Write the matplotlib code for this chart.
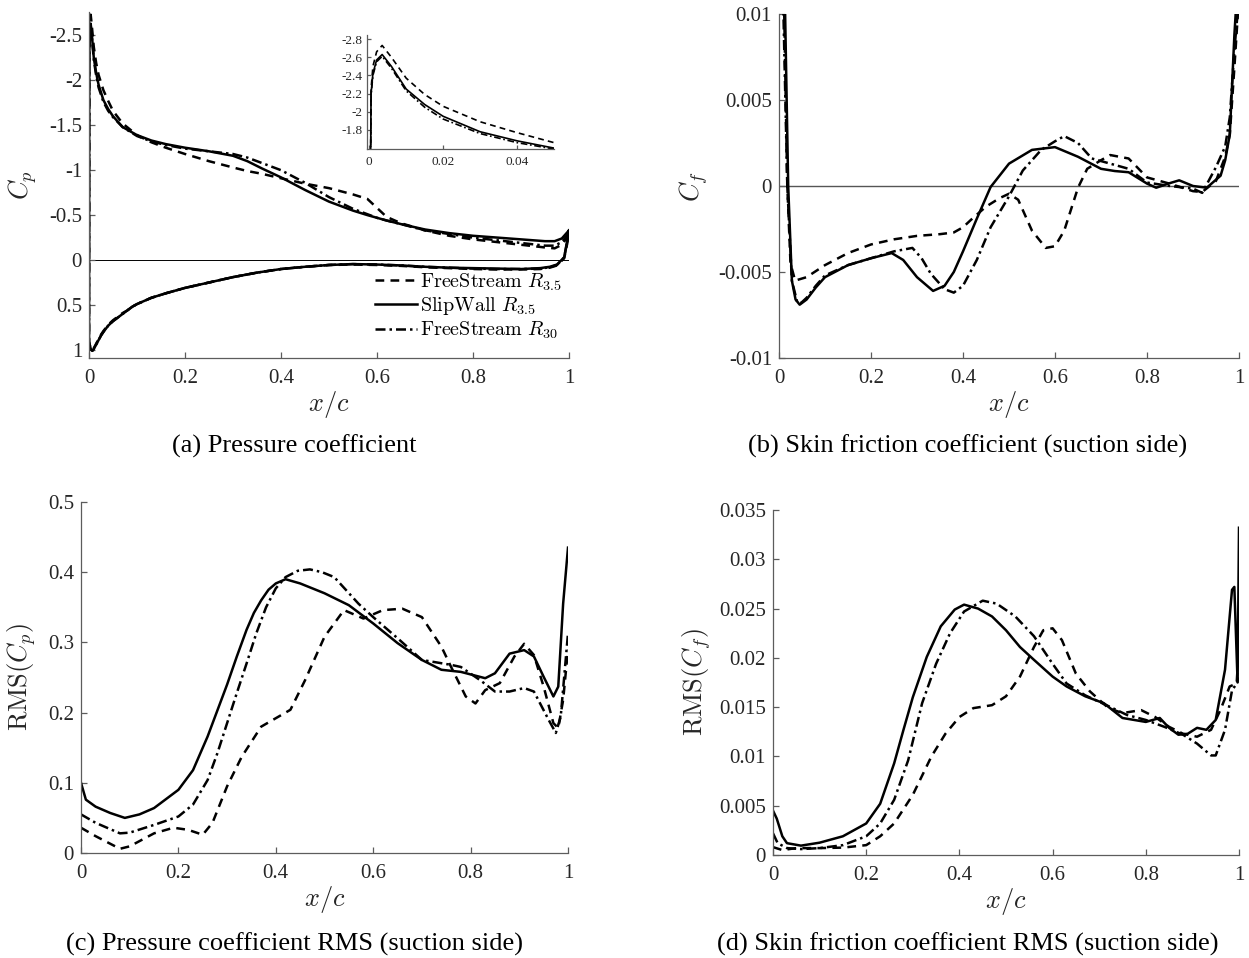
import matplotlib
matplotlib.use("Agg")
import matplotlib.pyplot as plt
from matplotlib.lines import Line2D
from matplotlib.ticker import FuncFormatter

# ---- pressure coefficient, suction (upper) and pressure (lower) sides ----
cp_x_upper = [0, 0.0005, 0.001, 0.002, 0.0035, 0.006, 0.01, 0.015, 0.02, 0.03, 0.04, 0.05,
              0.07, 0.1, 0.13, 0.16, 0.2, 0.25, 0.3, 0.33, 0.36, 0.4, 0.45, 0.5, 0.55, 0.58,
              0.6, 0.62, 0.65, 0.7, 0.75, 0.8, 0.85, 0.9, 0.95, 0.97, 0.985, 1.0]
cp_up_fs35 = [0.9, -2.25, -2.5, -2.66, -2.73, -2.6, -2.37, -2.19, -2.06, -1.89, -1.77, -1.66,
              -1.52, -1.39, -1.31, -1.25, -1.18, -1.1, -1.03, -0.99, -0.96, -0.91, -0.85, -0.8,
              -0.73, -0.68, -0.58, -0.48, -0.41, -0.33, -0.27, -0.23, -0.2, -0.17, -0.14, -0.13,
              -0.17, -0.28]
cp_up_slip = [0.9, -2.2, -2.42, -2.57, -2.63, -2.5, -2.25, -2.08, -1.95, -1.78, -1.68, -1.6,
              -1.48, -1.39, -1.33, -1.29, -1.25, -1.21, -1.16, -1.1, -1.02, -0.92, -0.78, -0.65,
              -0.55, -0.5, -0.47, -0.44, -0.4, -0.34, -0.3, -0.27, -0.25, -0.23, -0.21, -0.21,
              -0.24, -0.33]
cp_up_fs30 = [0.9, -2.18, -2.4, -2.55, -2.61, -2.48, -2.23, -2.05, -1.92, -1.76, -1.66, -1.59,
              -1.48, -1.38, -1.32, -1.28, -1.24, -1.21, -1.18, -1.14, -1.08, -1.0, -0.86, -0.7,
              -0.57, -0.51, -0.47, -0.44, -0.4, -0.33, -0.29, -0.25, -0.22, -0.19, -0.16, -0.16,
              -0.2, -0.3]

cp_x_lower = [0, 0.003, 0.007, 0.01, 0.015, 0.02, 0.025, 0.03, 0.04, 0.05, 0.06, 0.07, 0.08,
              0.09, 0.1, 0.13, 0.16, 0.2, 0.25, 0.3, 0.35, 0.4, 0.45, 0.5, 0.55, 0.6, 0.65,
              0.7, 0.75, 0.8, 0.85, 0.9, 0.94, 0.96, 0.975, 0.99, 1.0]
cp_lo_fs35 = [0.9, 0.98, 1.0, 0.98, 0.93, 0.88, 0.83, 0.79, 0.72, 0.67, 0.63, 0.59, 0.56,
              0.52, 0.49, 0.42, 0.37, 0.31, 0.25, 0.19, 0.14, 0.1, 0.075, 0.055, 0.05, 0.055,
              0.065, 0.08, 0.09, 0.1, 0.105, 0.105, 0.1, 0.085, 0.06, -0.02, -0.28]
cp_lo_slip = [0.9, 0.99, 1.01, 0.99, 0.94, 0.89, 0.84, 0.8, 0.73, 0.68, 0.64, 0.6, 0.56,
              0.52, 0.49, 0.42, 0.37, 0.31, 0.25, 0.19, 0.14, 0.1, 0.075, 0.055, 0.045, 0.05,
              0.06, 0.075, 0.085, 0.09, 0.095, 0.1, 0.09, 0.075, 0.05, -0.03, -0.33]
cp_lo_fs30 = [0.9, 0.99, 1.01, 0.99, 0.94, 0.89, 0.84, 0.8, 0.73, 0.68, 0.64, 0.6, 0.56,
              0.52, 0.49, 0.42, 0.37, 0.31, 0.25, 0.19, 0.14, 0.1, 0.075, 0.055, 0.045, 0.05,
              0.06, 0.075, 0.085, 0.095, 0.1, 0.1, 0.095, 0.08, 0.055, -0.03, -0.3]

# ---- skin friction coefficient, suction side ----
cf_x_fs35 = [0.01, 0.018, 0.025, 0.035, 0.06, 0.1, 0.15, 0.2, 0.25, 0.3, 0.35, 0.38, 0.4,
             0.42, 0.45, 0.48, 0.5, 0.52, 0.55, 0.58, 0.6, 0.62, 0.65, 0.67, 0.7, 0.72, 0.76,
             0.8, 0.85, 0.9, 0.92, 0.95, 0.97, 0.98, 0.99, 1.0]
cf_fs35 = [0.012, 0.0, -0.0045, -0.0055, -0.0053, -0.0046, -0.0039, -0.0034, -0.0031, -0.0029,
           -0.0028, -0.0027, -0.0024, -0.0019, -0.0012, -0.0007, -0.00045, -0.0008, -0.0026,
           -0.0036, -0.0035, -0.0026, -0.0001, 0.001, 0.0015, 0.0018, 0.0016, 0.0005, 0.00013,
           -0.0003, -0.00035, 0.0003, 0.0017, 0.003, 0.0069, 0.011]
cf_x_slip = [0.012, 0.02, 0.028, 0.036, 0.045, 0.06, 0.08, 0.1, 0.15, 0.2, 0.245, 0.27, 0.3,
             0.335, 0.36, 0.38, 0.4, 0.43, 0.46, 0.5, 0.55, 0.6, 0.65, 0.7, 0.73, 0.76, 0.8,
             0.82, 0.85, 0.87, 0.9, 0.93, 0.96, 0.97, 0.98, 0.99, 0.995]
cf_slip = [0.012, 0.0, -0.0055, -0.0066, -0.0069, -0.0066, -0.0059, -0.0053, -0.0046, -0.0042,
           -0.0039, -0.0043, -0.0053, -0.0061, -0.0058, -0.005, -0.0038, -0.0019, -0.00006,
           0.0013, 0.0021, 0.00226, 0.0017, 0.001, 0.00087, 0.0008, 0.00014, -0.0001, 0.00017,
           0.00033, 0.0, -0.0001, 0.0006, 0.0015, 0.003, 0.0088, 0.011]
cf_x_fs30 = [0.008, 0.018, 0.028, 0.04, 0.048, 0.06, 0.08, 0.1, 0.15, 0.2, 0.25, 0.29, 0.31,
             0.33, 0.36, 0.38, 0.4, 0.43, 0.46, 0.5, 0.53, 0.57, 0.6, 0.62, 0.65, 0.68, 0.72,
             0.76, 0.8, 0.85, 0.9, 0.92, 0.95, 0.97, 0.98, 0.99, 1.0]
cf_fs30 = [0.012, 0.0, -0.0055, -0.0068, -0.0068, -0.0065, -0.0058, -0.0052, -0.0046, -0.0042,
           -0.0038, -0.0036, -0.0042, -0.0051, -0.006, -0.0062, -0.0058, -0.0043, -0.0024,
           -0.0006, 0.0009, 0.0021, 0.0026, 0.0029, 0.0025, 0.0016, 0.0013, 0.001, 0.0002, 0.0,
           -0.00015, -0.0004, 0.0011, 0.0023, 0.004, 0.0079, 0.011]

# ---- RMS of Cp, suction side ----
rp_x_fs35 = [0, 0.03, 0.08, 0.1, 0.15, 0.19, 0.22, 0.25, 0.27, 0.3, 0.33, 0.37, 0.4, 0.43,
             0.46, 0.5, 0.54, 0.58, 0.62, 0.66, 0.7, 0.74, 0.76, 0.79, 0.81, 0.83, 0.86, 0.89,
             0.91, 0.93, 0.95, 0.97, 0.98, 0.99, 1.0]
rp_fs35 = [0.036, 0.024, 0.006, 0.0095, 0.028, 0.036, 0.033, 0.026, 0.043, 0.095, 0.137, 0.18,
           0.192, 0.204, 0.246, 0.308, 0.346, 0.334, 0.346, 0.348, 0.336, 0.294, 0.265, 0.223,
           0.213, 0.232, 0.242, 0.28, 0.298, 0.282, 0.237, 0.185, 0.178, 0.218, 0.29]
rp_x_slip = [0, 0.01, 0.03, 0.06, 0.09, 0.12, 0.15, 0.2, 0.23, 0.26, 0.28, 0.3, 0.32, 0.34,
             0.355, 0.37, 0.385, 0.4, 0.42, 0.45, 0.5, 0.55, 0.6, 0.65, 0.7, 0.74, 0.78, 0.83,
             0.85, 0.88, 0.91, 0.93, 0.95, 0.97, 0.98, 0.99, 1.0]
rp_slip = [0.1, 0.076, 0.066, 0.057, 0.05, 0.055, 0.064, 0.09, 0.118, 0.166, 0.203, 0.24, 0.28,
           0.318, 0.342, 0.36, 0.375, 0.384, 0.39, 0.384, 0.37, 0.353, 0.327, 0.299, 0.275,
           0.261, 0.258, 0.249, 0.256, 0.284, 0.289, 0.28, 0.251, 0.223, 0.237, 0.355, 0.435]
rp_x_fs30 = [0, 0.03, 0.08, 0.1, 0.15, 0.2, 0.23, 0.26, 0.28, 0.3, 0.32, 0.34, 0.36, 0.38,
             0.4, 0.42, 0.445, 0.47, 0.495, 0.52, 0.57, 0.6, 0.65, 0.7, 0.76, 0.78, 0.82, 0.85,
             0.88, 0.91, 0.93, 0.96, 0.975, 0.985, 1.0]
rp_fs30 = [0.055, 0.043, 0.028, 0.029, 0.04, 0.052, 0.069, 0.104, 0.142, 0.185, 0.228, 0.27,
           0.313, 0.35, 0.377, 0.393, 0.402, 0.404, 0.4, 0.393, 0.355, 0.336, 0.306, 0.275,
           0.268, 0.265, 0.246, 0.23, 0.23, 0.235, 0.23, 0.19, 0.171, 0.194, 0.313]

# ---- RMS of Cf, suction side ----
rf_x_fs35 = [0, 0.02, 0.05, 0.1, 0.15, 0.2, 0.23, 0.26, 0.3, 0.34, 0.37, 0.4, 0.43, 0.47, 0.5,
             0.53, 0.56, 0.58, 0.6, 0.62, 0.65, 0.68, 0.72, 0.75, 0.79, 0.82, 0.85, 0.88,
             0.91, 0.94, 0.96, 0.98, 0.995, 1.0]
rf_fs35 = [0.0008, 0.0005, 0.0007, 0.0007, 0.00075, 0.001, 0.0019, 0.0032, 0.0061, 0.01,
           0.0123, 0.014, 0.0149, 0.0152, 0.0161, 0.0181, 0.0211, 0.0228, 0.023, 0.0218,
           0.0184, 0.0166, 0.0149, 0.0144, 0.0147, 0.014, 0.013, 0.0123, 0.012, 0.0127,
           0.0147, 0.0171, 0.0174, 0.0215]
rf_x_slip = [0, 0.008, 0.02, 0.03, 0.06, 0.1, 0.15, 0.2, 0.23, 0.26, 0.28, 0.3, 0.33, 0.36,
             0.39, 0.41, 0.44, 0.47, 0.5, 0.53, 0.56, 0.6, 0.63, 0.67, 0.71, 0.75, 0.8, 0.83,
             0.85, 0.87, 0.89, 0.91, 0.93, 0.95, 0.97, 0.985, 0.99, 0.997, 1.0]
rf_slip = [0.0045, 0.0037, 0.0019, 0.0012, 0.00095, 0.00125, 0.0019, 0.0032, 0.0052, 0.0093,
           0.0127, 0.016, 0.0201, 0.0232, 0.0249, 0.0254, 0.025, 0.0242, 0.0228, 0.0211,
           0.0198, 0.0181, 0.0171, 0.0161, 0.0154, 0.0139, 0.0135, 0.0139, 0.0129, 0.0122,
           0.0123, 0.0129, 0.0127, 0.0137, 0.0188, 0.0269, 0.0272, 0.0175, 0.0332]
rf_x_fs30 = [0, 0.01, 0.03, 0.06, 0.1, 0.15, 0.2, 0.23, 0.26, 0.29, 0.305, 0.32, 0.35, 0.38,
             0.41, 0.45, 0.48, 0.52, 0.56, 0.6, 0.63, 0.67, 0.72, 0.76, 0.8, 0.84, 0.88, 0.91,
             0.94, 0.95, 0.97, 0.985, 0.995, 1.0]
rf_fs30 = [0.0022, 0.0012, 0.0007, 0.0006, 0.0007, 0.001, 0.0019, 0.0032, 0.0056, 0.0096,
           0.0125, 0.0154, 0.0194, 0.0225, 0.0247, 0.0258, 0.0255, 0.0242, 0.0222, 0.0194,
           0.0174, 0.0162, 0.0151, 0.0142, 0.0137, 0.013, 0.0122, 0.0113, 0.0101, 0.0101,
           0.0127, 0.0167, 0.0174, 0.018]

case_labels = [r"$\mathrm{FreeStream}\ R_{3.5}$",
               r"$\mathrm{SlipWall}\ R_{3.5}$",
               r"$\mathrm{FreeStream}\ R_{30}$"]
captions = ["(a) Pressure coefficient",
            "(b) Skin friction coefficient (suction side)",
            "(c) Pressure coefficient RMS (suction side)",
            "(d) Skin friction coefficient RMS (suction side)"]

plt.rcParams["font.family"] = ["Liberation Serif", "DejaVu Serif"]
plt.rcParams["mathtext.fontset"] = "cm"

W, H = 1249, 958
AXIS_COLOR = "#5c5c5c"
TEXT_COLOR = "#262626"
LW = 1.8
STYLES = [dict(color="k", lw=LW, dashes=(3.5, 2.5)),
          dict(color="k", lw=LW, linestyle="-"),
          dict(color="k", lw=LW, dashes=(4.0, 1.6, 1.0, 1.6))]


def px_box(left, top, right, bottom):
    return [left / W, 1 - bottom / H, (right - left) / W, (bottom - top) / H]


def tick_text(v, _pos):
    return "0" if v == 0 else "%g" % round(v, 6)


def style_axes(ax, labelsize=15, xpad=8, ypad=5, ticklen=4.5):
    for side in ("top", "right"):
        ax.spines[side].set_visible(False)
    for side in ("left", "bottom"):
        ax.spines[side].set_color(AXIS_COLOR)
        ax.spines[side].set_linewidth(0.9)
    ax.tick_params(direction="in", length=ticklen, width=0.9, color=AXIS_COLOR,
                   labelsize=labelsize, labelcolor=TEXT_COLOR)
    ax.tick_params(axis="x", pad=xpad)
    ax.tick_params(axis="y", pad=ypad)
    ax.xaxis.set_major_formatter(FuncFormatter(tick_text))
    ax.yaxis.set_major_formatter(FuncFormatter(tick_text))


def set_labels(ax, box, ylabel, ylabel_right_px):
    left, top, right, bottom = box
    ax.set_xlabel(r"$x/c$", fontsize=19, color=TEXT_COLOR)
    ax.xaxis.set_label_coords(0.5, -31 / (bottom - top))
    ax.set_ylabel(ylabel, fontsize=19, color=TEXT_COLOR)
    ax.yaxis.set_label_coords((ylabel_right_px - left) / (right - left), 0.5)


fig = plt.figure(figsize=(W / 100, H / 100), dpi=100)

box_a = (89, 12, 569, 358)
box_b = (779, 14, 1239, 358)
box_c = (81, 502, 568, 853)
box_d = (773, 510, 1239, 855)

# (a) pressure coefficient around the whole section
ax_a = fig.add_axes(px_box(*box_a))
ax_a.axhline(0, color="k", lw=0.7, zorder=1)
up_series = [cp_up_fs35, cp_up_slip, cp_up_fs30]
lo_series = [cp_lo_fs35, cp_lo_slip, cp_lo_fs30]
for up, lo, st in zip(up_series, lo_series, STYLES):
    xs = cp_x_upper[::-1] + cp_x_lower
    ys = up[::-1] + lo
    ax_a.plot(xs, ys, **st)
ax_a.set_xlim(0, 1)
ax_a.set_ylim(1.09, -2.76)
ax_a.set_xticks([0, 0.2, 0.4, 0.6, 0.8, 1])
ax_a.set_yticks([-2.5, -2, -1.5, -1, -0.5, 0, 0.5, 1])
style_axes(ax_a)
set_labels(ax_a, box_a, r"$C_p$", 39)

handles = [Line2D([], [], **st) for st in STYLES]
ax_a.legend(handles, case_labels, loc="upper left", bbox_to_anchor=(0.596, 0.25),
            frameon=False, fontsize=14.5, handlelength=2.1, handletextpad=0.15,
            labelspacing=0.12, borderpad=0, borderaxespad=0)

# leading-edge suction peak
ax_in = fig.add_axes(px_box(367, 35, 554, 149))
for up, st in zip(up_series, STYLES):
    inset_style = dict(st)
    inset_style["lw"] = 1.2
    ax_in.plot(cp_x_upper, up, **inset_style)
ax_in.set_xlim(-0.0006, 0.05)
ax_in.set_ylim(-1.59, -2.845)
ax_in.set_xticks([0, 0.02, 0.04])
ax_in.set_yticks([-2.8, -2.6, -2.4, -2.2, -2, -1.8])
style_axes(ax_in, labelsize=9.5, xpad=5, ypad=3, ticklen=3)

# (b) skin friction coefficient
ax_b = fig.add_axes(px_box(*box_b))
ax_b.axhline(0, color="#555555", lw=1.0, zorder=1)
for xs, ys, st in zip([cf_x_fs35, cf_x_slip, cf_x_fs30], [cf_fs35, cf_slip, cf_fs30], STYLES):
    ax_b.plot(xs, ys, **st)
ax_b.set_xlim(0, 1)
ax_b.set_ylim(-0.01, 0.01)
ax_b.set_xticks([0, 0.2, 0.4, 0.6, 0.8, 1])
ax_b.set_yticks([-0.01, -0.005, 0, 0.005, 0.01])
style_axes(ax_b)
set_labels(ax_b, box_b, r"$C_f$", 710)

# (c) pressure coefficient RMS
ax_c = fig.add_axes(px_box(*box_c))
for xs, ys, st in zip([rp_x_fs35, rp_x_slip, rp_x_fs30], [rp_fs35, rp_slip, rp_fs30], STYLES):
    ax_c.plot(xs, ys, **st)
ax_c.set_xlim(0, 1)
ax_c.set_ylim(0, 0.5)
ax_c.set_xticks([0, 0.2, 0.4, 0.6, 0.8, 1])
ax_c.set_yticks([0, 0.1, 0.2, 0.3, 0.4, 0.5])
style_axes(ax_c)
set_labels(ax_c, box_c, r"$\mathrm{RMS}(C_p)$", 38)

# (d) skin friction coefficient RMS
ax_d = fig.add_axes(px_box(*box_d))
for xs, ys, st in zip([rf_x_fs35, rf_x_slip, rf_x_fs30], [rf_fs35, rf_slip, rf_fs30], STYLES):
    ax_d.plot(xs, ys, **st)
ax_d.set_xlim(0, 1)
ax_d.set_ylim(0, 0.035)
ax_d.set_xticks([0, 0.2, 0.4, 0.6, 0.8, 1])
ax_d.set_yticks([0, 0.005, 0.01, 0.015, 0.02, 0.025, 0.03, 0.035])
style_axes(ax_d)
set_labels(ax_d, box_d, r"$\mathrm{RMS}(C_f)$", 713)

# sub-captions
for text, (cx, cy) in zip(captions, [(294, 446), (968, 446), (294, 944), (968, 944)]):
    fig.text(cx / W, 1 - cy / H, text, ha="center", va="center", fontsize=19, color="black")

fig.savefig("out.png", dpi=100)
